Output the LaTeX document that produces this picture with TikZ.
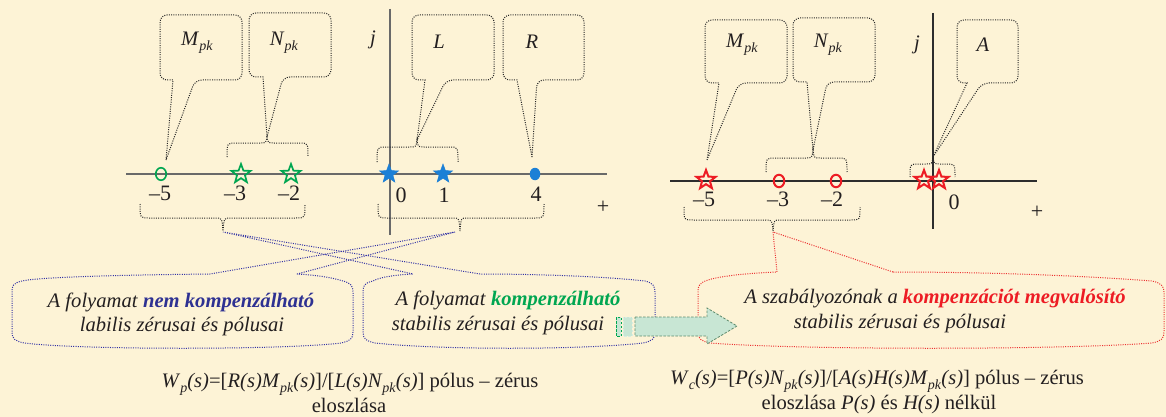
\documentclass[tikz,border=0pt]{standalone}
\usepackage{fontspec}
\setmainfont{Liberation Serif}
\usetikzlibrary{shapes.geometric}
\definecolor{bg}{RGB}{253,243,214}
\definecolor{txtc}{RGB}{35,31,32}
\definecolor{axisg}{RGB}{105,105,105}
\definecolor{axisd}{RGB}{45,45,45}
\definecolor{pgreen}{RGB}{0,166,81}
\definecolor{pblue}{RGB}{28,128,214}
\definecolor{pred}{RGB}{237,28,36}
\definecolor{dblue}{RGB}{46,49,146}
\definecolor{dotblue}{RGB}{50,50,165}
\definecolor{dotred}{RGB}{236,50,50}
\definecolor{arrfill}{RGB}{200,230,212}
\definecolor{arrline}{RGB}{95,140,110}
\newcommand\mysub[1]{\raisebox{-0.25em}{\fontsize{14}{14}\selectfont #1}}
% x1 y1 x2 y2 tailbaseA tailbaseB tip
\newcommand\mycallout[7]{%
 \draw[dotline] (#7) -- (#5,#4) [rounded corners=7pt] -- (#1,#4) -- (#1,#2) -- (#3,#2) -- (#3,#4) -- (#6,#4) [sharp corners] -- (#7);}
% x1 x2 ybar yend tipx tipy
\newcommand\mybrace[6]{%
 \draw[dotline] (#1,#4) .. controls (#1,#3) .. (#1+9,#3) -- (#5-7,#3) .. controls (#5-1,#3) .. (#5,#6) .. controls (#5+1,#3) .. (#5+7,#3) -- (#2-9,#3) .. controls (#2,#3) .. (#2,#4);}
\tikzset{
 dotline/.style={line width=1pt, dash pattern=on 1pt off 1.3pt, draw=black!85},
 bluedot/.style={dotline, draw=dotblue},
 reddot/.style={dotline, draw=dotred},
 axisline/.style={line width=1.4pt, draw=axisg},
 axisline2/.style={line width=1.2pt, draw=axisd},
 txt/.style={font=\fontsize{20.6}{25}\selectfont, text=txtc, inner sep=0pt},
 num/.style={font=\fontsize{22}{26}\selectfont, text=txtc, inner sep=0pt},
 pstar/.style={star, star points=5, star point ratio=2.4, minimum size=20pt, inner sep=0pt, line width=1.7pt},
 gstar/.style={pstar, draw=pgreen},
 bstar/.style={pstar, fill=pblue, draw=pblue, line width=0.5pt},
 rstar/.style={pstar, draw=pred, line width=2pt},
 pcirc/.style={ellipse, minimum width=10.5pt, minimum height=12.5pt, inner sep=0pt},
 gcirc/.style={pcirc, draw=pgreen, line width=1.6pt},
 rcirc/.style={pcirc, draw=pred, line width=2pt},
 bdot/.style={pcirc, fill=pblue},
 arrowbox/.style={fill=arrfill, draw=arrline, line width=0.8pt, dash pattern=on 2.5pt off 1.5pt},
}
\begin{document}
\begin{tikzpicture}[x=1pt,y=-1pt]
\fill[bg] (0,0) rectangle (1166,417);
\useasboundingbox (0,0) rectangle (1166,417);

% ---------- left plane ----------
\coordinate (lax1) at (126,174); \coordinate (lax2) at (607,174);
\coordinate (lay1) at (390,9); \coordinate (lay2) at (390,235);
\draw[axisline] (lax1) -- (lax2);
\draw[axisline] (lay1) -- (lay2);
\node[txt] (j1) at (373,40) {\textit{j}};

\coordinate (tipM1) at (166,160);
\coordinate (tipN1) at (267,137);
\coordinate (tipL1) at (417,140);
\coordinate (tipR1) at (532,157);
\mycallout{160}{15}{242}{80}{173}{195}{tipM1}
\mycallout{249}{13}{331}{77}{263}{283}{tipN1}
\mycallout{412}{15}{494}{80}{425}{446}{tipL1}
\mycallout{503}{15}{584}{80}{517}{537}{tipR1}
\node[txt] (lm) at (197,43) {\textit{M}\mysub{\textit{pk}}};
\node[txt] (ln) at (284,43) {\textit{N}\mysub{\textit{pk}}};
\node[txt] (ll) at (439,42) {\textit{L}};
\node[txt] (lr) at (532,42) {\textit{R}};

\mybrace{227}{308}{143}{157}{267}{137}
\mybrace{377}{458}{147}{162}{417}{140}
\mybrace{140}{305}{218}{204}{223}{231}
\mybrace{378}{544}{218}{204}{460}{231}

\node[gcirc] (pm5) at (161,174) {};
\node[gstar] (pm3) at (241,174) {};
\node[gstar] (pm2) at (291,174) {};
\node[bstar] (p0) at (389,174) {};
\node[bstar] (p1) at (443,174) {};
\node[bdot] (p4) at (535,174) {};

\node[num] (n1) at (160,193) {–5};
\node[num] (n2) at (235,193) {–3};
\node[num] (n3) at (289,193) {–2};
\node[num] (n4) at (401,195) {0};
\node[num] (n5) at (444,195) {1};
\node[num] (n6) at (536,194) {4};
\node[num] (n7) at (603,207) {+};

% ---------- right plane ----------
\coordinate (rax1) at (670,181); \coordinate (rax2) at (1037,181);
\coordinate (ray1) at (933,13); \coordinate (ray2) at (933,229);
\draw[axisline2] (rax1) -- (rax2);
\draw[axisline2] (ray1) -- (ray2);
\node[txt] (j2) at (917,45) {\textit{j}};

\coordinate (tipM2) at (707,160);
\coordinate (tipN2) at (813,150);
\coordinate (tipA2) at (933,157);
\mycallout{705}{20}{787}{83}{719}{739}{tipM2}
\mycallout{793}{18}{875}{82}{807}{827}{tipN2}
\mycallout{957}{20}{1018}{83}{967}{982}{tipA2}
\node[txt] (rm) at (742,45) {\textit{M}\mysub{\textit{pk}}};
\node[txt] (rn) at (828,45) {\textit{N}\mysub{\textit{pk}}};
\node[txt] (ra) at (983,45) {\textit{A}};

\mybrace{766}{847}{158}{172}{813}{150}
\mybrace{910}{955}{164}{177}{933}{157}
\mybrace{684}{860}{220}{207}{773}{231}

\node[rstar] (qm5) at (706,180) {};
\node[rcirc] (qm3) at (779,181) {};
\node[rcirc] (qm2) at (836,181) {};
\node[rstar] (q0a) at (924,180) {};
\node[rstar] (q0b) at (939,180) {};

\node[num] (m1) at (704,199) {–5};
\node[num] (m2) at (778,199) {–3};
\node[num] (m3) at (832,199) {–2};
\node[num] (m4) at (954,202) {0};
\node[num] (m5) at (1037,212) {+};

% ---------- bubbles ----------
\coordinate (tipBL) at (455,232);
\coordinate (tipBK) at (223,232);
\coordinate (tipBR) at (773,232);
\draw[bluedot] (297,274) -- (tipBL) -- (210,274)
 .. controls (120,275) and (40,277) .. (22,281)
 .. controls (13,283) and (12,286) .. (12,292)
 -- (12,332)
 .. controls (12,339) and (15,341) .. (24,343)
 .. controls (80,350) and (285,350) .. (341,343)
 .. controls (350,341) and (353,339) .. (353,332)
 -- (353,292)
 .. controls (353,286) and (351,283) .. (343,281)
 .. controls (330,277) and (315,275) .. (297,274);
\draw[bluedot] (480,274) -- (tipBK) -- (413,274)
 .. controls (395,275) and (380,277) .. (373,281)
 .. controls (364,283) and (363,286) .. (363,292)
 -- (363,332)
 .. controls (363,339) and (366,341) .. (375,343)
 .. controls (440,350) and (580,350) .. (643,343)
 .. controls (652,341) and (655,339) .. (655,332)
 -- (655,292)
 .. controls (655,286) and (653,283) .. (645,281)
 .. controls (600,276) and (530,274) .. (480,274);
\draw[reddot] (893,272) -- (tipBR) -- (777,272)
 .. controls (750,273) and (720,276) .. (708,280)
 .. controls (699,283) and (698,286) .. (698,292)
 -- (698,332)
 .. controls (698,339) and (701,341) .. (710,343)
 .. controls (800,350) and (1060,350) .. (1152,343)
 .. controls (1161,341) and (1164,339) .. (1164,332)
 -- (1164,292)
 .. controls (1164,286) and (1161,283) .. (1152,281)
 .. controls (1060,274) and (960,272) .. (893,272);

\node[txt, anchor=base] (b1a) at (181,307) {\textit{A folyamat} \textcolor{dblue}{\textbf{\textit{nem kompenzálható}}}};
\node[txt, anchor=base] (b1b) at (182,331) {\textit{labilis zérusai és pólusai}};
\node[txt, anchor=base] (b2a) at (508,305) {\textit{A folyamat} \textcolor{pgreen}{\textbf{\textit{kompenzálható}}}};
\node[txt, anchor=base] (b2b) at (498,330) {\textit{stabilis zérusai és pólusai}};
\node[txt, anchor=base] (b3a) at (935,303) {\textit{A szabályozónak a} \textcolor{pred}{\textbf{\textit{kompenzációt megvalósító}}}};
\node[txt, anchor=base] (b3b) at (900,328) {\textit{stabilis zérusai és pólusai}};

% ---------- arrow ----------
\filldraw[arrowbox, draw=pgreen] (616,317) rectangle (621,336);
\filldraw[arrowbox, draw=arrfill!70!white] (623,317) rectangle (632,336);
\filldraw[arrowbox] (635,317) -- (707,317) -- (707,308) -- (737,326) -- (707,344) -- (707,336) -- (635,336) -- cycle;

% ---------- formulas ----------
\node[txt, anchor=base] (f1a) at (350,387) {\textit{W}\mysub{\textit{p}}\textit{(s)}=[\textit{R(s)M}\mysub{\textit{pk}}\textit{(s)}]/[\textit{L(s)N}\mysub{\textit{pk}}\textit{(s)}] pólus – zérus};
\node[txt, anchor=base] (f1b) at (349,412) {eloszlása};
\node[txt, anchor=base] (f2a) at (877,384) {\textit{W}\mysub{\textit{c}}\textit{(s)}=[\textit{P(s)N}\mysub{\textit{pk}}\textit{(s)}]/[\textit{A(s)H(s)M}\mysub{\textit{pk}}\textit{(s)}] pólus – zérus};
\node[txt, anchor=base] (f2b) at (879,409) {eloszlása \textit{P(s)} és \textit{H(s)} nélkül};
\end{tikzpicture}
\end{document}
